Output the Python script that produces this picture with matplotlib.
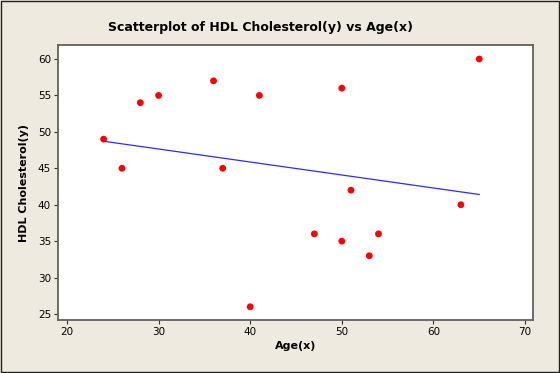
import numpy as np
import matplotlib
matplotlib.use("Agg")
import matplotlib.pyplot as plt
from matplotlib.patches import Rectangle

# data
age = [24, 26, 28, 30, 36, 37, 40, 41, 47, 50, 50, 51, 53, 54, 63, 65]
hdl = [49, 45, 54, 55, 57, 45, 26, 55, 36, 56, 35, 42, 33, 36, 40, 60]
x_ticks = [20, 30, 40, 50, 60, 70]
y_ticks = [25, 30, 35, 40, 45, 50, 55, 60]

bg = "#eeeae0"
plt.rcParams["font.family"] = ["DejaVu Sans"]

fig = plt.figure(figsize=(5.6, 3.73), dpi=100, facecolor=bg)
ax = fig.add_axes([58 / 560, 1 - 320 / 373, 475 / 560, 275 / 373])
ax.set_facecolor("white")

x = np.array(age, dtype=float)
y = np.array(hdl, dtype=float)
slope, icpt = np.polyfit(x, y, 1)
xs = np.array([x.min(), x.max()])
ax.plot(xs, icpt + slope * xs, color="#2b2bff", lw=0.9, zorder=2)
ax.scatter(x, y, s=24, color="#ff0000", edgecolors="none", zorder=3)

ax.set_xlim(19.02, 70.87)
ax.set_ylim(24.18, 61.92)
ax.set_xticks(x_ticks)
ax.set_yticks(y_ticks)
ax.tick_params(labelsize=7.5, length=3, width=0.8, color="#333333", pad=2)
for s in ax.spines.values():
    s.set_color("#606060")
    s.set_linewidth(1.3)

ax.set_xlabel("Age(x)", fontsize=8, fontweight="bold", labelpad=3)
ax.set_ylabel("HDL Cholesterol(y)", fontsize=8, fontweight="bold", labelpad=6)
fig.text(0.465, 0.925, "Scatterplot of HDL Cholesterol(y) vs Age(x)",
         ha="center", va="center", fontsize=9, fontweight="bold")

fig.patches.append(Rectangle((0.001, 0.002), 0.997, 0.996, transform=fig.transFigure,
                             fill=False, edgecolor="#222222", lw=1.0))

fig.savefig("out.png", dpi=100, facecolor=bg)
